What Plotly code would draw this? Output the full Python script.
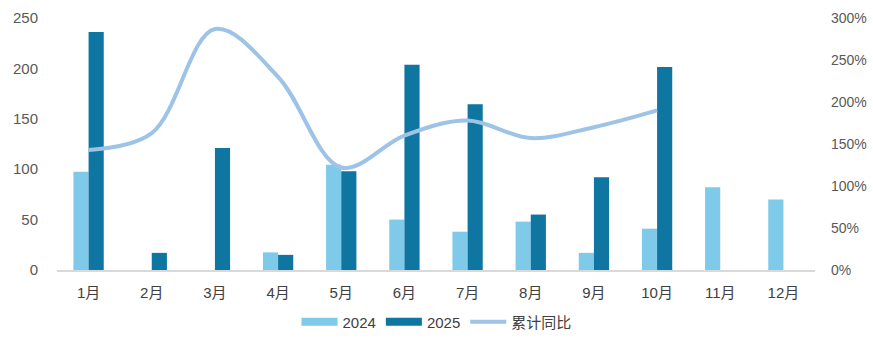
import plotly.graph_objects as go

months = ["1月", "2月", "3月", "4月", "5月", "6月", "7月", "8月", "9月", "10月", "11月", "12月"]
v2024 = [97.5, None, None, 17.5, 104.5, 50, 38, 48, 17, 41, 82, 70]
v2025 = [236, 17, 121, 15, 98, 203.5, 164.5, 55, 92, 201.5, None, None]
yoy = [1.43, 1.63, 2.87, 2.30, 1.22, 1.60, 1.78, 1.57, 1.70, 1.90]

font = "Liberation Sans, Arial, Noto Sans CJK SC, sans-serif"
c24 = "#7FC9E9"
c25 = "#0E76A0"
cline = "#9DC3E6"

fig = go.Figure()
fig.add_trace(go.Bar(x=months, y=v2024, name="2024", marker_color=c24, marker_line_width=0, showlegend=False))
fig.add_trace(go.Bar(x=months, y=v2025, name="2025", marker_color=c25, marker_line_width=0, showlegend=False))
fig.add_trace(go.Scatter(x=months[:len(yoy)], y=yoy, name="累计同比", mode="lines", yaxis="y2",
                         line=dict(color=cline, width=4, shape="spline", smoothing=1.0), showlegend=False))
# legend entries
fig.add_trace(go.Scatter(x=[None], y=[None], name="2024", mode="lines", line=dict(color=c24, width=8)))
fig.add_trace(go.Scatter(x=[None], y=[None], name="2025", mode="lines", line=dict(color=c25, width=8)))
fig.add_trace(go.Scatter(x=[None], y=[None], name="累计同比", mode="lines", yaxis="y2", line=dict(color=cline, width=4)))

fig.update_layout(
    width=873, height=349,
    margin=dict(l=57, r=58, t=18, b=78.5, autoexpand=False),
    paper_bgcolor="white", plot_bgcolor="white",
    barmode="group", bargap=0.52, bargroupgap=0,
    font=dict(family=font, size=15, color="#404040"),
    xaxis=dict(showgrid=False, showline=True, linecolor="#D9D9D9", linewidth=1.5, ticks="",
               tickfont=dict(size=15, color="#404040"), ticklabelstandoff=8),
    yaxis=dict(range=[0, 250], dtick=50, showgrid=False, zeroline=False, showline=False,
               tickfont=dict(size=15, color="#595959"), ticklabelstandoff=18),
    yaxis2=dict(range=[0, 3], dtick=0.5, tickformat=".0%", overlaying="y", side="right",
                showgrid=False, zeroline=False, showline=False,
                tickfont=dict(size=14, color="#595959"), ticklabelstandoff=15),
    legend=dict(orientation="h", x=0.5, xanchor="center", xref="container",
                y=(349 - 322) / 349, yanchor="middle", yref="container",
                font=dict(size=15, color="#404040"), traceorder="normal", itemwidth=36),
)

fig.write_html("out.html")
